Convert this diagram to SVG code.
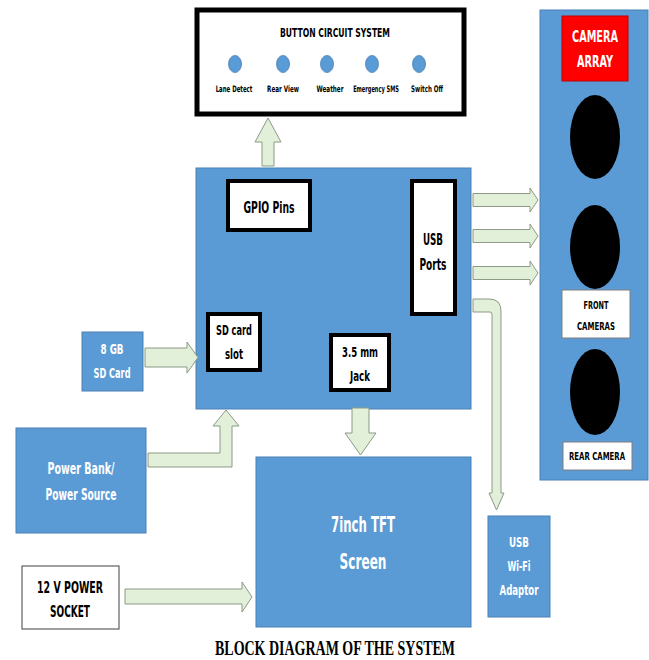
<svg xmlns="http://www.w3.org/2000/svg" width="649" height="660" viewBox="0 0 649 660">
<style>
.blue{fill:#5b9bd5;stroke:#4a80b4;stroke-width:1}
.wbox{fill:#ffffff;stroke:#000000;stroke-width:4}
.arr{fill:#e2efd9;stroke:#8c9a86;stroke-width:1}
.t{font-family:"Liberation Sans Narrow","DejaVu Sans Condensed","Liberation Sans",sans-serif;font-weight:bold;text-anchor:middle}
.k{fill:#000000}
.w{fill:#ffffff}
.dot{fill:#5b9bd5;stroke:#4a80b4;stroke-width:0.8}
</style>
<rect width="649" height="660" fill="#ffffff"/>

<g id="button-circuit">
<rect x="197" y="10" width="267" height="104" fill="#ffffff" stroke="#000" stroke-width="5"/>
<text class="t k" x="335" y="37" font-size="12" textLength="110" lengthAdjust="spacingAndGlyphs">BUTTON CIRCUIT SYSTEM</text>
<ellipse class="dot" cx="235" cy="64" rx="6.5" ry="8.5"/>
<ellipse class="dot" cx="283" cy="64" rx="6.5" ry="8.5"/>
<ellipse class="dot" cx="327" cy="64" rx="6.5" ry="8.5"/>
<ellipse class="dot" cx="372" cy="64" rx="6.5" ry="8.5"/>
<ellipse class="dot" cx="419" cy="64" rx="6.5" ry="8.5"/>
<text class="t k" transform="translate(234,92) scale(0.75,1)" font-size="9" textLength="49" lengthAdjust="spacingAndGlyphs">Lane Detect</text>
<text class="t k" transform="translate(283,92) scale(0.75,1)" font-size="9" textLength="42.5" lengthAdjust="spacingAndGlyphs">Rear View</text>
<text class="t k" transform="translate(330,92) scale(0.75,1)" font-size="9" textLength="36" lengthAdjust="spacingAndGlyphs">Weather</text>
<text class="t k" transform="translate(376,92) scale(0.75,1)" font-size="9" textLength="61" lengthAdjust="spacingAndGlyphs">Emergency SMS</text>
<text class="t k" transform="translate(427,92) scale(0.75,1)" font-size="9" textLength="42.5" lengthAdjust="spacingAndGlyphs">Switch Off</text>
</g>

<g id="main-board">
<rect class="blue" x="196" y="168" width="275" height="241"/>
</g>
<g id="gpio-pins">
<rect class="wbox" x="228" y="181" width="82" height="49"/>
<text class="t k" x="269" y="213" font-size="15" textLength="51" lengthAdjust="spacingAndGlyphs">GPIO Pins</text>
</g>
<g id="usb-ports">
<rect class="wbox" x="412" y="181" width="43" height="133"/>
<text class="t k" x="433" y="245" font-size="15" textLength="20" lengthAdjust="spacingAndGlyphs">USB</text>
<text class="t k" x="433" y="270" font-size="15" textLength="27" lengthAdjust="spacingAndGlyphs">Ports</text>
</g>
<g id="sd-card-slot">
<rect class="wbox" x="208" y="314" width="52" height="56"/>
<text class="t k" x="234" y="335" font-size="14" textLength="36" lengthAdjust="spacingAndGlyphs">SD card</text>
<text class="t k" x="234" y="359" font-size="14" textLength="18" lengthAdjust="spacingAndGlyphs">slot</text>
</g>
<g id="audio-jack">
<rect class="wbox" x="331" y="335" width="58" height="55"/>
<text class="t k" x="360" y="357" font-size="14" textLength="36" lengthAdjust="spacingAndGlyphs">3.5 mm</text>
<text class="t k" x="360" y="381" font-size="14" textLength="20" lengthAdjust="spacingAndGlyphs">Jack</text>
</g>

<g id="camera-array">
<rect class="blue" x="540" y="10" width="108" height="470"/>
<rect x="562" y="16" width="66" height="65" fill="#ff0000" stroke="#c00000" stroke-width="1"/>
<text class="t w" x="595" y="42" font-size="15" textLength="46" lengthAdjust="spacingAndGlyphs">CAMERA</text>
<text class="t w" x="595" y="67" font-size="15" textLength="36" lengthAdjust="spacingAndGlyphs">ARRAY</text>
<ellipse cx="595" cy="137" rx="25" ry="42" fill="#000"/>
<ellipse cx="595" cy="247" rx="25" ry="42" fill="#000"/>
<rect x="562" y="290" width="68" height="48" fill="#fff" stroke="#7f7f7f" stroke-width="1"/>
<text class="t k" x="596" y="309" font-size="10" textLength="25" lengthAdjust="spacingAndGlyphs">FRONT</text>
<text class="t k" x="596" y="330" font-size="10" textLength="38" lengthAdjust="spacingAndGlyphs">CAMERAS</text>
<ellipse cx="595" cy="392" rx="25" ry="43" fill="#000"/>
<rect x="563" y="442" width="69" height="28" fill="#fff" stroke="#7f7f7f" stroke-width="1"/>
<text class="t k" x="597" y="460" font-size="10" textLength="56" lengthAdjust="spacingAndGlyphs">REAR CAMERA</text>
</g>

<g id="sd-card-8gb">
<rect class="blue" x="82" y="332" width="61" height="59"/>
<text class="t w" x="112" y="354" font-size="14" textLength="23" lengthAdjust="spacingAndGlyphs">8 GB</text>
<text class="t w" x="112" y="378" font-size="14" textLength="37" lengthAdjust="spacingAndGlyphs">SD Card</text>
</g>

<g id="power-bank">
<rect class="blue" x="16" y="428" width="130" height="105"/>
<text class="t w" x="81" y="474" font-size="15" textLength="67" lengthAdjust="spacingAndGlyphs">Power Bank/</text>
<text class="t w" x="81" y="500" font-size="15" textLength="71" lengthAdjust="spacingAndGlyphs">Power Source</text>
</g>

<g id="power-socket">
<rect x="22" y="566" width="97" height="63" fill="#fff" stroke="#404040" stroke-width="1"/>
<text class="t k" x="70" y="593" font-size="15" textLength="66" lengthAdjust="spacingAndGlyphs">12 V POWER</text>
<text class="t k" x="70" y="617" font-size="15" textLength="40" lengthAdjust="spacingAndGlyphs">SOCKET</text>
</g>

<g id="tft-screen">
<rect class="blue" x="256" y="457" width="215" height="170"/>
<text class="t w" x="363" y="532" font-size="22" textLength="64" lengthAdjust="spacingAndGlyphs">7inch TFT</text>
<text class="t w" x="363" y="569" font-size="22" textLength="47" lengthAdjust="spacingAndGlyphs">Screen</text>
</g>

<g id="wifi-adaptor">
<rect class="blue" x="488" y="516" width="62" height="101"/>
<text class="t w" x="519" y="547" font-size="14" textLength="20" lengthAdjust="spacingAndGlyphs">USB</text>
<text class="t w" x="519" y="571" font-size="14" textLength="23" lengthAdjust="spacingAndGlyphs">Wi-Fi</text>
<text class="t w" x="519" y="595" font-size="14" textLength="39" lengthAdjust="spacingAndGlyphs">Adaptor</text>
</g>

<g id="connectors">
<path class="arr" d="M262,166 L262,142 L255,142 L268,118 L281,142 L274,142 L274,166 Z"/>
<path class="arr" d="M473,193.5 L530,193.5 L530,188 L538,200 L530,212 L530,206.5 L473,206.5 Z"/>
<path class="arr" d="M473,229.5 L530,229.5 L530,224 L538,236 L530,248 L530,242.5 L473,242.5 Z"/>
<path class="arr" d="M473,266.5 L530,266.5 L530,261 L538,273 L530,285 L530,279.5 L473,279.5 Z"/>
<path class="arr" d="M473,299 L489,299 Q501,299 501,311 L501,493 L504,493 L496.5,510 L489,493 L492,493 L492,314 Q492,312 490,312 L473,312 Z"/>
<path class="arr" d="M352,408 L369,408 L369,433 L376,433 L360.5,455 L345,433 L352,433 Z"/>
<path class="arr" d="M145,348 L187,348 L187,342 L198,357.5 L187,373 L187,367 L145,367 Z"/>
<path class="arr" d="M148,453 L220,453 L220,426 L213,426 L226,410 L239,426 L232,426 L232,467 L148,467 Z"/>
<path class="arr" d="M125,589 L242,589 L242,582 L252,597 L242,612 L242,604 L125,604 Z"/>
</g>

<text x="335" y="655" font-family="'Liberation Serif',serif" font-weight="bold" font-size="21" text-anchor="middle" textLength="240" lengthAdjust="spacingAndGlyphs" fill="#000">BLOCK DIAGRAM OF THE SYSTEM</text>
</svg>
